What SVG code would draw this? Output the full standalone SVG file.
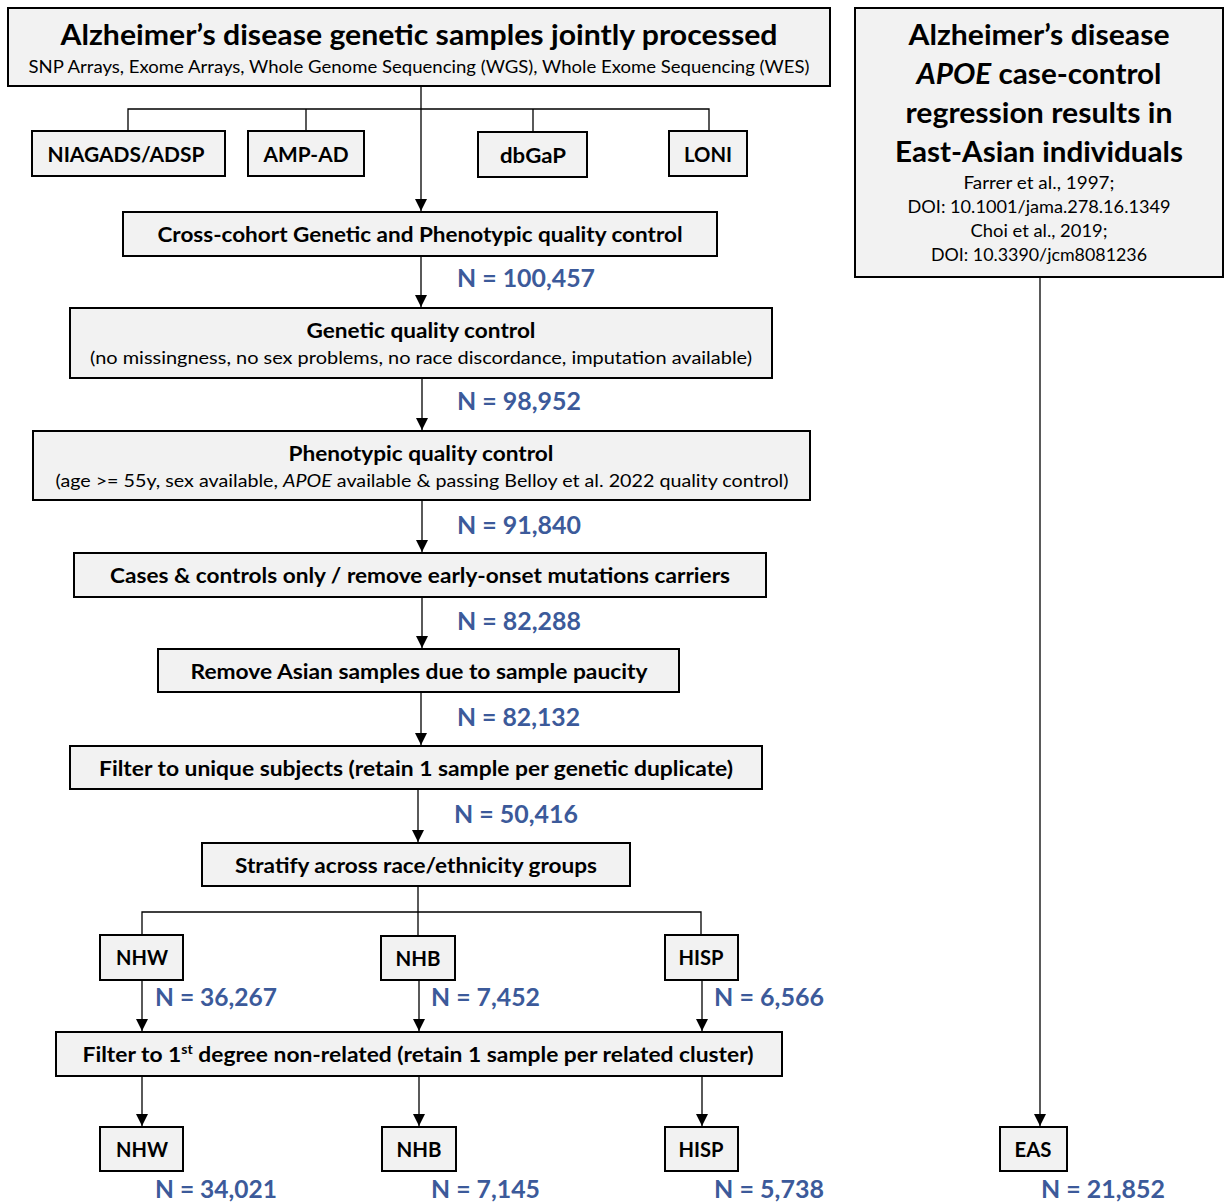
<svg xmlns="http://www.w3.org/2000/svg" width="1225" height="1203" viewBox="0 0 1225 1203">
<style>
.box{fill:#F2F2F2;stroke:#000;stroke-width:2}
text{font-family:Lato,"Open Sans","Liberation Sans",sans-serif;fill:#000}
.t{font-weight:bold;text-anchor:middle}
.s{font-weight:normal;text-anchor:middle}
.n{font-weight:bold;fill:#3C5A9A;font-size:24px}
.c{stroke:#000;stroke-width:1.3;fill:none}
</style>
<defs>
<marker id="ah" markerUnits="userSpaceOnUse" markerWidth="12" markerHeight="14" refX="12" refY="6" orient="auto" viewBox="0 0 12 12">
<path d="M0,0 L12,6 L0,12 Z" fill="#000"/>
</marker>
</defs>
<rect width="1225" height="1203" fill="#fff"/>

<g id="connectors">
<line class="c" x1="421" y1="86" x2="421" y2="211" marker-end="url(#ah)"/>
<polyline class="c" points="128,131 128,109 709,109 709,131"/>
<line class="c" x1="306" y1="109" x2="306" y2="131"/>
<line class="c" x1="533" y1="109" x2="533" y2="132"/>
<line class="c" x1="421" y1="256" x2="421" y2="307" marker-end="url(#ah)"/>
<line class="c" x1="422" y1="378" x2="422" y2="430" marker-end="url(#ah)"/>
<line class="c" x1="422" y1="500" x2="422" y2="552" marker-end="url(#ah)"/>
<line class="c" x1="422" y1="597" x2="422" y2="648" marker-end="url(#ah)"/>
<line class="c" x1="421" y1="692" x2="421" y2="745" marker-end="url(#ah)"/>
<line class="c" x1="418" y1="789" x2="418" y2="842" marker-end="url(#ah)"/>
<line class="c" x1="418" y1="886" x2="418" y2="936"/>
<polyline class="c" points="142,935 142,912 701,912 701,935"/>
<line class="c" x1="142" y1="980" x2="142" y2="1031" marker-end="url(#ah)"/>
<line class="c" x1="419" y1="980" x2="419" y2="1031" marker-end="url(#ah)"/>
<line class="c" x1="702" y1="980" x2="702" y2="1031" marker-end="url(#ah)"/>
<line class="c" x1="142" y1="1076" x2="142" y2="1126" marker-end="url(#ah)"/>
<line class="c" x1="419" y1="1076" x2="419" y2="1126" marker-end="url(#ah)"/>
<line class="c" x1="702" y1="1076" x2="702" y2="1126" marker-end="url(#ah)"/>
<line class="c" x1="1040" y1="277" x2="1040" y2="1126" marker-end="url(#ah)"/>
</g>

<g id="top">
<rect class="box" x="8" y="8" width="822" height="78"/>
<text class="t" x="419" y="45" font-size="28" textLength="717" lengthAdjust="spacingAndGlyphs">Alzheimer’s disease genetic samples jointly processed</text>
<text class="s" x="419" y="73" font-size="17" textLength="781" lengthAdjust="spacingAndGlyphs">SNP Arrays, Exome Arrays, Whole Genome Sequencing (WGS), Whole Exome Sequencing (WES)</text>
</g>
<g id="niagads">
<rect class="box" x="32" y="131" width="193" height="45"/>
<text class="t" x="126" y="162" font-size="21" textLength="157" lengthAdjust="spacingAndGlyphs">NIAGADS/ADSP</text>
</g>
<g id="ampad">
<rect class="box" x="248" y="131" width="116" height="45"/>
<text class="t" x="306" y="162" font-size="21" textLength="85" lengthAdjust="spacingAndGlyphs">AMP-AD</text>
</g>
<g id="dbgap">
<rect class="box" x="478" y="132" width="109" height="45"/>
<text class="t" x="533" y="163" font-size="21" textLength="66" lengthAdjust="spacingAndGlyphs">dbGaP</text>
</g>
<g id="loni">
<rect class="box" x="669" y="131" width="78" height="45"/>
<text class="t" x="708" y="162" font-size="21" textLength="48" lengthAdjust="spacingAndGlyphs">LONI</text>
</g>

<g id="crosscohort">
<rect class="box" x="123" y="212" width="594" height="44"/>
<text class="t" x="420" y="242" font-size="21" textLength="525" lengthAdjust="spacingAndGlyphs">Cross-cohort Genetic and Phenotypic quality control</text>
</g>
<text class="n" x="457" y="287" textLength="138" lengthAdjust="spacingAndGlyphs">N = 100,457</text>

<g id="geneticqc">
<rect class="box" x="70" y="308" width="702" height="70"/>
<text class="t" x="421" y="338" font-size="21" textLength="229" lengthAdjust="spacingAndGlyphs">Genetic quality control</text>
<text class="s" x="421" y="364" font-size="18" textLength="662" lengthAdjust="spacingAndGlyphs">(no missingness, no sex problems, no race discordance, imputation available)</text>
</g>
<text class="n" x="457" y="410" textLength="124" lengthAdjust="spacingAndGlyphs">N = 98,952</text>

<g id="phenoqc">
<rect class="box" x="33" y="431" width="777" height="69"/>
<text class="t" x="421" y="461" font-size="21" textLength="265" lengthAdjust="spacingAndGlyphs">Phenotypic quality control</text>
<text class="s" x="422" y="487" font-size="18" textLength="733" lengthAdjust="spacingAndGlyphs">(age &gt;= 55y, sex available, <tspan font-style="italic">APOE</tspan> available &amp; passing Belloy et al. 2022 quality control)</text>
</g>
<text class="n" x="457" y="534" textLength="124" lengthAdjust="spacingAndGlyphs">N = 91,840</text>

<g id="cases">
<rect class="box" x="74" y="553" width="692" height="44"/>
<text class="t" x="420" y="583" font-size="21" textLength="620" lengthAdjust="spacingAndGlyphs">Cases &amp; controls only / remove early-onset mutations carriers</text>
</g>
<text class="n" x="457" y="630" textLength="124" lengthAdjust="spacingAndGlyphs">N = 82,288</text>

<g id="removeasian">
<rect class="box" x="158" y="649" width="521" height="43"/>
<text class="t" x="419" y="679" font-size="21" textLength="457" lengthAdjust="spacingAndGlyphs">Remove Asian samples due to sample paucity</text>
</g>
<text class="n" x="457" y="726" textLength="123" lengthAdjust="spacingAndGlyphs">N = 82,132</text>

<g id="unique">
<rect class="box" x="70" y="746" width="692" height="43"/>
<text class="t" x="416" y="776" font-size="21" textLength="634" lengthAdjust="spacingAndGlyphs">Filter to unique subjects (retain 1 sample per genetic duplicate)</text>
</g>
<text class="n" x="454" y="823" textLength="124" lengthAdjust="spacingAndGlyphs">N = 50,416</text>

<g id="stratify">
<rect class="box" x="202" y="843" width="428" height="43"/>
<text class="t" x="416" y="873" font-size="21" textLength="362" lengthAdjust="spacingAndGlyphs">Stratify across race/ethnicity groups</text>
</g>

<g id="nhw1">
<rect class="box" x="100" y="935" width="83" height="45"/>
<text class="t" x="142" y="965" font-size="21" textLength="52" lengthAdjust="spacingAndGlyphs">NHW</text>
</g>
<g id="nhb1">
<rect class="box" x="381" y="936" width="74" height="44"/>
<text class="t" x="418" y="966" font-size="21" textLength="45" lengthAdjust="spacingAndGlyphs">NHB</text>
</g>
<g id="hisp1">
<rect class="box" x="665" y="935" width="73" height="45"/>
<text class="t" x="701" y="965" font-size="21" textLength="45" lengthAdjust="spacingAndGlyphs">HISP</text>
</g>
<text class="n" x="155" y="1006" textLength="122" lengthAdjust="spacingAndGlyphs">N = 36,267</text>
<text class="n" x="431" y="1006" textLength="109" lengthAdjust="spacingAndGlyphs">N = 7,452</text>
<text class="n" x="714" y="1006" textLength="110" lengthAdjust="spacingAndGlyphs">N = 6,566</text>

<g id="related">
<rect class="box" x="56" y="1032" width="726" height="44"/>
<text class="t" x="418" y="1062" font-size="21" textLength="671" lengthAdjust="spacingAndGlyphs">Filter to 1<tspan font-size="13" dy="-8">st</tspan><tspan dy="8"> degree non-related (retain 1 sample per related cluster)</tspan></text>
</g>

<g id="nhw2">
<rect class="box" x="100" y="1127" width="83" height="44"/>
<text class="t" x="142" y="1157" font-size="21" textLength="52" lengthAdjust="spacingAndGlyphs">NHW</text>
</g>
<g id="nhb2">
<rect class="box" x="382" y="1127" width="74" height="44"/>
<text class="t" x="419" y="1157" font-size="21" textLength="45" lengthAdjust="spacingAndGlyphs">NHB</text>
</g>
<g id="hisp2">
<rect class="box" x="665" y="1127" width="73" height="44"/>
<text class="t" x="701" y="1157" font-size="21" textLength="45" lengthAdjust="spacingAndGlyphs">HISP</text>
</g>
<text class="n" x="155" y="1198" textLength="122" lengthAdjust="spacingAndGlyphs">N = 34,021</text>
<text class="n" x="431" y="1198" textLength="109" lengthAdjust="spacingAndGlyphs">N = 7,145</text>
<text class="n" x="714" y="1198" textLength="110" lengthAdjust="spacingAndGlyphs">N = 5,738</text>

<g id="eastasian">
<rect class="box" x="855" y="8" width="368" height="269"/>
<text class="t" x="1039" y="45" font-size="28" textLength="261" lengthAdjust="spacingAndGlyphs">Alzheimer’s disease</text>
<text class="t" x="1039" y="84" font-size="28" textLength="245" lengthAdjust="spacingAndGlyphs"><tspan font-style="italic">APOE</tspan> case-control</text>
<text class="t" x="1039" y="123" font-size="28" textLength="267" lengthAdjust="spacingAndGlyphs">regression results in</text>
<text class="t" x="1039" y="162" font-size="28" textLength="288" lengthAdjust="spacingAndGlyphs">East-Asian individuals</text>
<text class="s" x="1039" y="189" font-size="17" textLength="151" lengthAdjust="spacingAndGlyphs">Farrer et al., 1997;</text>
<text class="s" x="1039" y="213" font-size="17" textLength="263" lengthAdjust="spacingAndGlyphs">DOI: 10.1001/jama.278.16.1349</text>
<text class="s" x="1039" y="237" font-size="17" textLength="137" lengthAdjust="spacingAndGlyphs">Choi et al., 2019;</text>
<text class="s" x="1039" y="261" font-size="17" textLength="216" lengthAdjust="spacingAndGlyphs">DOI: 10.3390/jcm8081236</text>
</g>

<g id="eas">
<rect class="box" x="1000" y="1127" width="67" height="44"/>
<text class="t" x="1033" y="1157" font-size="21" textLength="37" lengthAdjust="spacingAndGlyphs">EAS</text>
</g>
<text class="n" x="1041" y="1198" textLength="124" lengthAdjust="spacingAndGlyphs">N = 21,852</text>
</svg>
